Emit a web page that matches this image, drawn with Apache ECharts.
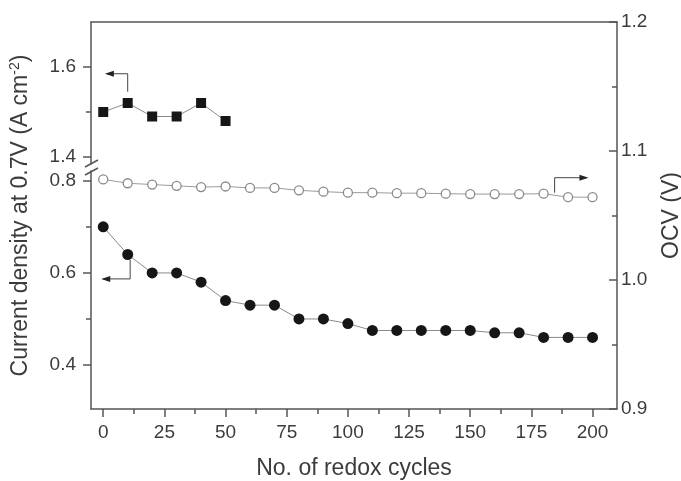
<!DOCTYPE html>
<html>
<head>
<meta charset="utf-8">
<script src="https://cdn.jsdelivr.net/npm/echarts@6/dist/echarts.min.js"></script>
<style>
html, body { margin: 0; padding: 0; background: #fff; }
#chart { width: 681px; height: 481px; }
</style>
</head>
<body>
<div id="chart"></div>
<script>
// x: number of redox cycles
var CYCLES = [0, 10, 20, 30, 40, 50, 60, 70, 80, 90, 100, 110, 120, 130, 140, 150, 160, 170, 180, 190, 200];
var CYCLES_SHORT = [0, 10, 20, 30, 40, 50];
// current density, upper part of the broken axis (squares)
var CD_UPPER = [1.50, 1.52, 1.49, 1.49, 1.52, 1.48];
// current density, lower part (filled circles)
var CD_LOWER = [0.70, 0.64, 0.60, 0.60, 0.58, 0.54, 0.53, 0.53, 0.50, 0.50, 0.49, 0.475, 0.475, 0.475, 0.475, 0.475, 0.47, 0.47, 0.46, 0.46, 0.46];
// OCV (open circles, right axis)
var OCV = [1.078, 1.075, 1.074, 1.073, 1.072, 1.0725, 1.0714, 1.0714, 1.0695, 1.0685, 1.0677, 1.0677, 1.0673, 1.0673, 1.0669, 1.0666, 1.0666, 1.0666, 1.0669, 1.0642, 1.0642];

// tick positions
var X_TICKS = [0, 25, 50, 75, 100, 125, 150, 175, 200];
var X_MINOR = [12.5, 37.5, 62.5, 87.5, 112.5, 137.5, 162.5, 187.5];
var UPPER_TICKS = [1.4, 1.6];
var UPPER_MINOR = [1.5];
var LOWER_TICKS = [0.4, 0.6, 0.8];
var LOWER_MINOR = [0.5, 0.7];

var FONT = 'Liberation Sans, Arial, sans-serif';
var TXT = '#3c3c3c';
var AX = '#555';
var TICK_FS = 19;
var NAME_FS = 23;

var chart = echarts.init(document.getElementById('chart'));

function hiddenX(grid) {
	return { type: 'value', gridIndex: grid, min: -5, max: 210, show: false };
}

// left y axis of one part of the break
function leftY(grid, min, max, ticks, withLine, len) {
	return {
		type: 'value', gridIndex: grid, position: 'left', min: min, max: max,
		splitLine: { show: false },
		axisLine: { show: withLine, onZero: false, lineStyle: { color: AX, width: 1.5 } },
		axisTick: { show: true, length: len, customValues: ticks, lineStyle: { color: AX, width: 1.5 } },
		axisLabel: {
			show: withLine, customValues: ticks, color: TXT, fontSize: TICK_FS, fontFamily: FONT, margin: 15,
			formatter: function (v) { return v.toFixed(1); }
		}
	};
}

var gridBase = { left: 91, right: 64, outerBoundsMode: 'none', containLabel: false };

chart.setOption({
	animation: false,
	grid: [
		Object.assign({ top: 22, bottom: 72 }, gridBase),
		Object.assign({ top: 22, height: 142 }, gridBase),
		Object.assign({ top: 171, height: 238 }, gridBase)
	],
	xAxis: [
		{
			type: 'value', gridIndex: 0, min: -5, max: 210, position: 'bottom',
			name: 'No. of redox cycles', nameLocation: 'middle', nameGap: 48,
			nameTextStyle: { color: TXT, fontSize: NAME_FS, fontFamily: FONT },
			splitLine: { show: false },
			axisLine: { onZero: false, lineStyle: { color: AX, width: 1.5 } },
			axisTick: { length: 8, customValues: X_TICKS, lineStyle: { color: AX, width: 1.5 } },
			axisLabel: { customValues: X_TICKS, color: TXT, fontSize: TICK_FS, fontFamily: FONT, margin: 14 }
		},
		{
			type: 'value', gridIndex: 0, min: -5, max: 210, position: 'bottom',
			splitLine: { show: false },
			axisLine: { show: false, onZero: false },
			axisTick: { length: 5, customValues: X_MINOR, lineStyle: { color: AX, width: 1.5 } },
			axisLabel: { show: false }
		},
		{
			type: 'value', gridIndex: 0, min: -5, max: 210, position: 'top',
			splitLine: { show: false },
			axisLine: { onZero: false, lineStyle: { color: AX, width: 1.5 } },
			axisTick: { show: false },
			axisLabel: { show: false }
		},
		hiddenX(1),
		hiddenX(2)
	],
	yAxis: [
		{
			type: 'value', gridIndex: 0, position: 'right', min: 0.9, max: 1.2, interval: 0.1,
			name: 'OCV (V)', nameLocation: 'middle', nameGap: 43, nameRotate: 90,
			nameTextStyle: { color: TXT, fontSize: NAME_FS, fontFamily: FONT },
			splitLine: { show: false },
			axisLine: { onZero: false, lineStyle: { color: AX, width: 1.5 } },
			axisTick: { inside: true, length: 8, lineStyle: { color: AX, width: 1.5 } },
			minorTick: { show: true, splitNumber: 2, length: 5, lineStyle: { color: AX, width: 1.5 } },
			axisLabel: { color: TXT, fontSize: TICK_FS, fontFamily: FONT, margin: 4, formatter: function (v) { return v.toFixed(1); } }
		},
		{
			type: 'value', gridIndex: 0, position: 'left', min: 0, max: 1,
			name: 'Current density at 0.7V (A cm{sup|-2})', nameLocation: 'middle', nameGap: 58,
			nameTextStyle: {
				color: TXT, fontSize: NAME_FS, fontFamily: FONT,
				rich: { sup: { color: TXT, fontSize: 14, fontFamily: FONT, padding: [0, 0, 11, 0] } }
			},
			splitLine: { show: false }, axisLine: { show: false, onZero: false }, axisTick: { show: false }, axisLabel: { show: false }
		},
		leftY(1, 1.7 - 142 / 450, 1.7, UPPER_TICKS, true, 8),
		leftY(1, 1.7 - 142 / 450, 1.7, UPPER_MINOR, false, 5),
		leftY(2, 0.3045, 0.3045 + 238 / 460.5, LOWER_TICKS, true, 8),
		leftY(2, 0.3045, 0.3045 + 238 / 460.5, LOWER_MINOR, false, 5)
	],
	series: [
		{
			name: 'OCV', type: 'line', xAxisIndex: 0, yAxisIndex: 0,
			data: CYCLES.map(function (c, i) { return [c, OCV[i]]; }),
			symbol: 'circle', symbolSize: 9,
			itemStyle: { color: '#fff', borderColor: '#8a8a8a', borderWidth: 1.3 },
			lineStyle: { color: '#9a9a9a', width: 1 }
		},
		{
			name: 'CD upper', type: 'line', xAxisIndex: 3, yAxisIndex: 2,
			data: CYCLES_SHORT.map(function (c, i) { return [c, CD_UPPER[i]]; }),
			symbol: 'rect', symbolSize: 10,
			itemStyle: { color: '#161616' },
			lineStyle: { color: '#8a8a8a', width: 1 }
		},
		{
			name: 'CD lower', type: 'line', xAxisIndex: 4, yAxisIndex: 4,
			data: CYCLES.map(function (c, i) { return [c, CD_LOWER[i]]; }),
			symbol: 'circle', symbolSize: 11,
			itemStyle: { color: '#161616' },
			lineStyle: { color: '#8a8a8a', width: 1 }
		}
	]
});

// annotation arrows, drawn in data coordinates of the given axes
var ARROWS = [
	{ axes: [3, 2], pts: [[10, 1.545], [10, 1.585], [1.5, 1.585]] },
	{ axes: [4, 4], pts: [[11, 0.628], [11, 0.587], [0, 0.587]] },
	{ axes: [0, 0], pts: [[184.5, 1.0677], [184.5, 1.0793], [197.5, 1.0793]] }
];

var elems = [];
ARROWS.forEach(function (a) {
	var p = a.pts.map(function (d) {
		return chart.convertToPixel({ xAxisIndex: a.axes[0], yAxisIndex: a.axes[1] }, d);
	});
	elems.push({ type: 'polyline', shape: { points: p }, style: { stroke: '#444', lineWidth: 1, fill: null } });
	var e = p[p.length - 1], s = p[p.length - 2];
	var dir = e[0] > s[0] ? 1 : -1;
	elems.push({
		type: 'polygon',
		shape: { points: [[e[0] + dir * 2, e[1]], [e[0] - dir * 7, e[1] - 3], [e[0] - dir * 7, e[1] + 3]] },
		style: { fill: '#222' }
	});
});

// break marks on the left axis
elems.push({ type: 'line', shape: { x1: 85, y1: 167, x2: 98, y2: 160 }, style: { stroke: AX, lineWidth: 1.5 } });
elems.push({ type: 'line', shape: { x1: 85, y1: 175, x2: 98, y2: 168 }, style: { stroke: AX, lineWidth: 1.5 } });

chart.setOption({ graphic: elems });
</script>
</body>
</html>
